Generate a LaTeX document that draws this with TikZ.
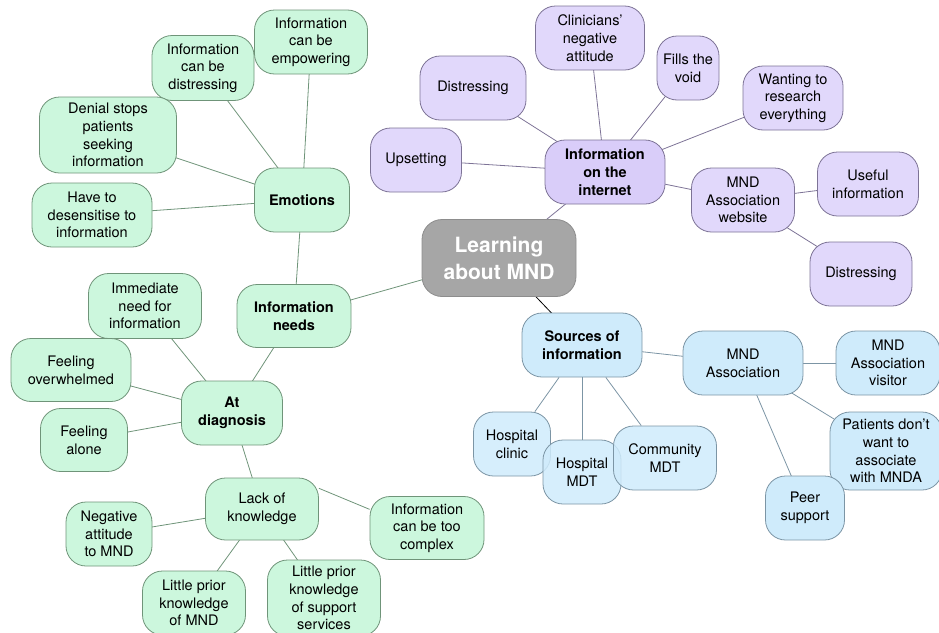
\documentclass[tikz,border=0pt]{standalone}
\usepackage{fontspec}
\setmainfont{TeX Gyre Heros}
\usetikzlibrary{backgrounds}
\definecolor{MintFill}{HTML}{CCF7DD}
\definecolor{MintLine}{HTML}{6F9479}
\definecolor{LilacFill}{HTML}{E1D8FB}
\definecolor{LilacHub}{HTML}{D9CDF9}
\definecolor{LilacLine}{HTML}{7D7396}
\definecolor{SkyFill}{HTML}{CFEBFB}
\definecolor{SkyLine}{HTML}{7C95A5}
\definecolor{HubGrey}{HTML}{A6A6A6}

\tikzset{
    bubble/.style={rectangle, rounded corners=20pt, draw, line width=0.8pt,
        align=center, inner sep=2pt, minimum height=64pt,
        font=\fontsize{14.5}{17.7}\selectfont},
    mint/.style={bubble, fill=MintFill, draw=MintLine},
    lilac/.style={bubble, fill=LilacFill, draw=LilacLine},
    sky/.style={bubble, fill=SkyFill, draw=SkyLine},
    topic/.style={font=\fontsize{14.5}{17.7}\selectfont\bfseries},
    mintedge/.style={draw=MintLine, line width=0.8pt},
    lilacedge/.style={draw=LilacLine, line width=0.8pt},
    skyedge/.style={draw=SkyLine, line width=0.8pt},
}

\begin{document}
\begin{tikzpicture}[x=1pt, y=-1pt]
    \useasboundingbox (0,0) rectangle (939,632);

    % Centre
    \node[bubble, fill=HubGrey, draw=HubGrey!85!black, text=white, minimum width=154, minimum height=77,
        font=\fontsize{21}{27}\selectfont\bfseries] (learning) at (499,258) {Learning\\about MND};

    % Information needs branch
    \node[mint, topic, minimum width=114, minimum height=63] (infoneeds) at (294,316) {Information\\needs};
    \node[mint, topic, minimum width=95] (emotions) at (302,200) {Emotions};
    \node[mint, minimum width=113] (empower) at (311,42) {Information\\can be\\empowering};
    \node[mint, minimum width=102, minimum height=65] (distress) at (203,68) {Information\\can be\\distressing};
    \node[mint, minimum width=137, minimum height=76] (denial) at (108,135) {Denial stops\\patients\\seeking\\information};
    \node[mint, minimum width=120] (desens) at (92,215) {Have to\\desensitise to\\information};
    \node[mint, topic, minimum width=101] (diagnosis) at (232,413) {At\\diagnosis};
    \node[mint, minimum width=113, minimum height=65] (immediate) at (145,306) {Immediate\\need for\\information};
    \node[mint, minimum width=120, minimum height=63] (overwhelm) at (71,370) {Feeling\\overwhelmed};
    \node[mint, minimum width=87, minimum height=63] (alone) at (84,440) {Feeling\\alone};
    \node[mint, minimum width=113, minimum height=62] (lack) at (262,509) {Lack of\\knowledge};
    \node[mint, minimum width=86] (negative) at (109,534) {Negative\\attitude\\to MND};
    \node[mint, minimum width=114, minimum height=63] (complex) at (427,528) {Information\\can be too\\complex};
    \node[mint, minimum width=103] (priormnd) at (194,603) {Little prior\\knowledge\\of MND};
    \node[mint, minimum width=113, minimum height=76] (priorsupp) at (324,598) {Little prior\\knowledge\\of support\\services};

    % Internet branch
    \node[lilac, topic, fill=LilacHub, minimum width=120] (internet) at (605,172) {Information\\on the\\internet};
    \node[lilac, minimum width=109] (clinicians) at (590,38) {Clinicians’\\negative\\attitude};
    \node[lilac, minimum width=62] (fills) at (688,68) {Fills the\\void};
    \node[lilac, minimum width=100] (wanting) at (793,98) {Wanting to\\research\\everything};
    \node[lilac, minimum width=106] (distresstop) at (473,88) {Distressing};
    \node[lilac, minimum width=91] (upsetting) at (416,160) {Upsetting};
    \node[lilac, minimum width=103] (website) at (743,200) {MND\\Association\\website};
    \node[lilac, minimum width=101] (useful) at (868,184) {Useful\\information};
    \node[lilac, minimum width=102] (distresslow) at (861,274) {Distressing};

    % Sources branch
    \node[sky, topic, minimum width=120] (sources) at (582,345) {Sources of\\information};
    \node[sky, minimum width=120] (association) at (743,363) {MND\\Association};
    \node[sky, minimum width=104] (visitor) at (888,363) {MND\\Association\\visitor};
    \node[sky, minimum width=112, minimum height=78] (patients) at (886,451) {Patients don’t\\want to\\associate\\with MNDA};
    \node[sky, minimum width=79] (peer) at (805,508) {Peer\\support};
    \node[sky, minimum width=77, fill opacity=0.85, text opacity=1] (clinic) at (512,444) {Hospital\\clinic};
    \node[sky, minimum width=78, fill opacity=0.85, text opacity=1] (hospmdt) at (582,472) {Hospital\\MDT};
    \node[sky, minimum width=103, fill opacity=0.85, text opacity=1] (community) at (665,458) {Community\\MDT};

    % Connectors
    \begin{scope}[on background layer]
        \draw[mintedge] (learning.center) -- (infoneeds.center);
        \draw[mintedge] (infoneeds.center) -- (emotions.center);
        \foreach \leaf in {empower, distress, denial, desens}
            \draw[mintedge] (emotions.center) -- (\leaf.center);
        \draw[mintedge] (infoneeds.center) -- (diagnosis.center);
        \foreach \leaf in {immediate, overwhelm, alone, lack}
            \draw[mintedge] (diagnosis.center) -- (\leaf.center);
        \foreach \leaf in {negative, priormnd, priorsupp}
            \draw[mintedge] (lack.center) -- (\leaf.center);
        \draw[mintedge] (lack.20) -- (complex.162);

        \draw[lilacedge] (learning.center) -- (internet.center);
        \foreach \leaf in {clinicians, fills, wanting, distresstop, upsetting, website}
            \draw[lilacedge] (internet.center) -- (\leaf.center);
        \foreach \leaf in {useful, distresslow}
            \draw[lilacedge] (website.center) -- (\leaf.center);

        \draw[line width=0.8pt] (learning.center) -- (sources.center);
        \draw[skyedge] (sources.center) -- (association.center);
        \foreach \leaf in {visitor, patients, peer}
            \draw[skyedge] (association.center) -- (\leaf.center);
    \end{scope}
    \foreach \leaf in {clinic, hospmdt, community}
        \draw[skyedge] (sources) -- (\leaf);
\end{tikzpicture}
\end{document}
